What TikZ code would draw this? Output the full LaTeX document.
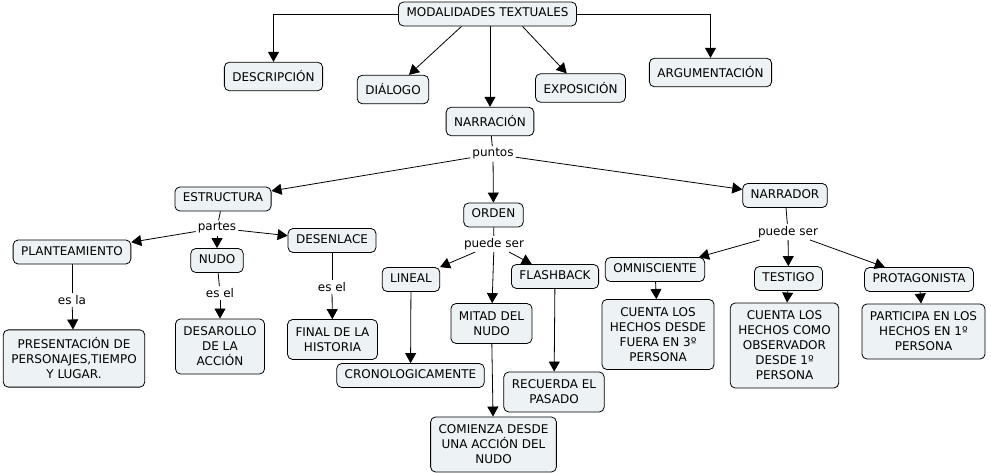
\documentclass[tikz,border=0pt]{standalone}
\usepackage{fontspec}
\setmainfont{DejaVu Sans}
\usetikzlibrary{arrows.meta}
\definecolor{boxfill}{HTML}{EDF2F5}

\begin{document}
\begin{tikzpicture}[x=1pt,y=-1pt,>={Triangle[width=11pt,length=10pt]}]
\tikzstyle{every node}=[font=\fontsize{12}{15}\selectfont]
\tikzstyle{concept}=[draw,line width=0.8pt,rounded corners=5pt,fill=boxfill,inner xsep=8pt]
\tikzstyle{box}=[concept,inner ysep=6pt,text height=9pt,text depth=3pt]
\tikzstyle{accbox}=[box,text height=13.5pt]
\tikzstyle{mbox}=[concept,inner ysep=8pt,align=center]
\tikzstyle{link}=[fill=white,inner sep=2pt]
\tikzstyle{conn}=[draw,line width=0.8pt]
\useasboundingbox (0,0) rectangle (991,473);
\node[box] (modal) at (487.5,14) {MODALIDADES TEXTUALES};
\node[accbox] (desc) at (273.5,76.5) {DESCRIPCIÓN};
\node[accbox] (dial) at (393,89.5) {DIÁLOGO};
\node[accbox] (expo) at (580.5,88) {EXPOSICIÓN};
\node[accbox] (argu) at (710.5,72.5) {ARGUMENTACIÓN};
\node[accbox] (narr) at (490,121.5) {NARRACIÓN};
\node[link] (puntos) at (493,154) {puntos};
\node[box] (estr) at (223,199) {ESTRUCTURA};
\node[box] (orden) at (493.5,215) {ORDEN};
\node[box] (narrador) at (785,195.5) {NARRADOR};
\node[link] (partes) at (217,228) {partes};
\node[box] (plan) at (72,252) {PLANTEAMIENTO};
\node[box] (nudo) at (217,260.5) {NUDO};
\node[box] (desen) at (332,240.5) {DESENLACE};
\node[link] (esla) at (72,300) {es la};
\node[link] (esnudo) at (220,293) {es el};
\node[link] (esdesen) at (332,287) {es el};
\node[mbox] (pres) at (74,358.5) {PRESENTACIÓN DE\\PERSONAJES,TIEMPO\\Y LUGAR.};
\node[mbox] (desa) at (220,346.5) {DESAROLLO\\DE LA\\ACCIÓN};
\node[mbox] (final) at (332.5,339.5) {FINAL DE LA\\HISTORIA};
\node[link] (puedeorden) at (494,244) {puede ser};
\node[box] (lineal) at (411,279.5) {LINEAL};
\node[box] (flash) at (555,276.5) {FLASHBACK};
\node[mbox] (mitad) at (491.5,323.5) {MITAD DEL\\NUDO};
\node[box] (crono) at (410.5,375.5) {CRONOLOGICAMENTE};
\node[mbox] (recu) at (554,392) {RECUERDA EL\\PASADO};
\node[mbox] (comi) at (493.5,444.5) {COMIENZA DESDE\\UNA ACCIÓN DEL\\NUDO};
\node[link] (puedenarr) at (788,232) {puede ser};
\node[box] (omni) at (655,269.5) {OMNISCIENTE};
\node[box] (test) at (788.5,278.5) {TESTIGO};
\node[box] (prota) at (919,279.5) {PROTAGONISTA};
\node[mbox] (fuera) at (658,334.5) {CUENTA LOS\\HECHOS DESDE\\FUERA EN 3º\\PERSONA};
\node[mbox] (obse) at (784.5,345.5) {CUENTA LOS\\HECHOS COMO\\OBSERVADOR\\DESDE 1º\\PERSONA};
\node[mbox] (parti) at (923.5,331.5) {PARTICIPA EN LOS\\HECHOS EN 1º\\PERSONA};
\draw[conn,->] (modal.west) -| (desc);
\draw[conn,->] (modal.east) -| (argu);
\draw[conn,->] ([xshift=-26pt]modal.south) -- (dial);
\draw[conn,->] (modal.south -| narr.north) -- (narr);
\draw[conn,->] ([xshift=35pt]modal.south) -- (expo);
\draw[conn] (narr) -- (puntos);
\foreach \n in {estr,orden,narrador} \draw[conn,->] (puntos) -- (\n);
\draw[conn] (estr) -- (partes);
\foreach \n in {plan,nudo,desen} \draw[conn,->] (partes) -- (\n);
\draw[conn] (plan) -- (esla);
\draw[conn,->] (esla) -- (pres);
\draw[conn] (nudo) -- (esnudo);
\draw[conn,->] (esnudo) -- (desa);
\draw[conn] (desen) -- (esdesen);
\draw[conn,->] (esdesen) -- (final);
\draw[conn] (orden) -- (puedeorden);
\foreach \n in {lineal,mitad,flash} \draw[conn,->] (puedeorden) -- (\n);
\draw[conn,->] (lineal) -- (crono);
\draw[conn,->] (mitad) -- (comi);
\draw[conn,->] (flash) -- (recu);
\draw[conn] (narrador) -- (puedenarr);
\foreach \n in {omni,test,prota} \draw[conn,->] (puedenarr) -- (\n);
\draw[conn,->] (omni) -- (fuera);
\draw[conn,->] (test) -- (obse);
\draw[conn,->] (prota) -- (parti);
\end{tikzpicture}
\end{document}
